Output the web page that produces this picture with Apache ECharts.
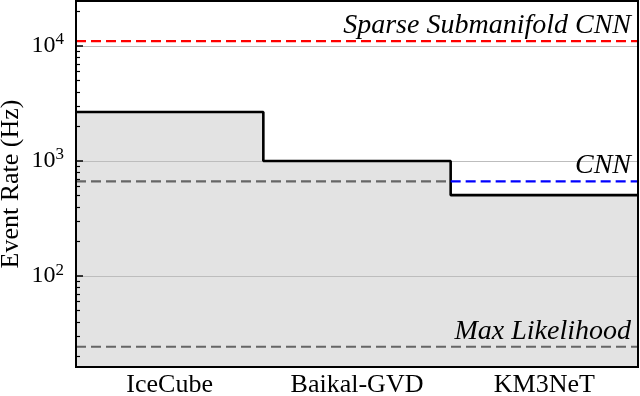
<!DOCTYPE html>
<html>
<head>
<meta charset="utf-8">
<script src="https://cdn.jsdelivr.net/npm/echarts@6/dist/echarts.min.js"></script>
<style>
  html, body { margin: 0; padding: 0; background: #fff; }
  #chart { width: 640px; height: 396px; }
</style>
</head>
<body>
<div id="chart"></div>
<script>
// detectors along x
var detectors = ["IceCube", "Baikal-GVD", "KM3NeT"];
// event rate of each detector (Hz), step outline
var eventRates = [2670, 1000, 505];
// reconstruction speeds (Hz)
var sparseCnnRate = 11000;
var cnnRate = 665;
var maxLikelihoodRate = 24.3;
// y axis range
var yMin = 16.2, yMax = 24600;
var majorTicks = [100, 1000, 10000];
var minorTicks = [20, 30, 40, 50, 60, 70, 80, 90, 200, 300, 400, 500, 600, 700, 800, 900,
    2000, 3000, 4000, 5000, 6000, 7000, 8000, 9000, 20000];

var serif = "Liberation Serif";

// step data: one point at the left edge of each band, plus the right edge
var stepData = eventRates.map(function (v, i) { return [i, v]; });
stepData.push([detectors.length, eventRates[eventRates.length - 1]]);

function hline(x0, x1, y, labelText) {
    var pts = [[x0, y], [x1, y]];
    if (labelText) {
        pts[1] = {
            value: [x1, y],
            label: {
                show: true,
                formatter: labelText,
                position: "top",
                align: "right",
                verticalAlign: "bottom",
                distance: 1,
                offset: [-7, 0],
                color: "#000",
                opacity: 1,
                fontFamily: serif,
                fontStyle: "italic",
                fontSize: 28
            }
        };
    }
    return pts;
}

function dashed(color, data) {
    return {
        type: "line",
        xAxisIndex: 1,
        data: data,
        symbol: "circle",
        symbolSize: 1,
        showSymbol: true,
        z: 5,
        lineStyle: { color: color, width: 2.2, type: [10, 5] },
        itemStyle: { color: "rgba(0,0,0,0)" },
        label: { show: false },
        animation: false
    };
}

var chart = echarts.init(document.getElementById("chart"));
chart.setOption({
    animation: false,
    grid: {
        left: 76, right: 2, top: 1, bottom: 29,
        containLabel: false, outerBoundsMode: "none",
        show: true, borderColor: "#000", borderWidth: 2, z: 6
    },
    xAxis: [
        {
            type: "category",
            data: detectors,
            boundaryGap: true,
            z: 6,
            axisLine: { lineStyle: { color: "#000", width: 2 } },
            axisTick: { alignWithLabel: true, inside: true, length: 6, lineStyle: { color: "#000", width: 1.5 } },
            axisLabel: { color: "#000", fontFamily: serif, fontSize: 26, margin: 5 },
            splitLine: { show: false }
        },
        {
            type: "value",
            min: 0,
            max: detectors.length,
            show: false
        }
    ],
    yAxis: [
        {
            type: "log",
            logBase: 10,
            min: yMin,
            max: yMax,
            z: 3,
            name: "Event Rate (Hz)",
            nameLocation: "middle",
            nameGap: 52,
            nameMoveOverlap: false,
            nameTextStyle: { color: "#000", fontFamily: serif, fontSize: 26 },
            axisLine: { lineStyle: { color: "#000", width: 2 } },
            axisTick: { inside: true, length: 7, customValues: majorTicks, lineStyle: { color: "#000", width: 1.5 } },
            axisLabel: {
                customValues: majorTicks,
                margin: 12,
                formatter: function (v) {
                    var e = Math.round(Math.log10(v));
                    return "{b|10}{s|" + e + "}";
                },
                rich: {
                    b: { fontFamily: serif, fontSize: 24, color: "#000" },
                    s: { fontFamily: serif, fontSize: 17, color: "#000", padding: [0, 0, 12, 0] }
                }
            },
            splitLine: { show: true, lineStyle: { color: "#bdbdbd", width: 1 } }
        },
        {
            type: "log",
            logBase: 10,
            min: yMin,
            max: yMax,
            position: "left",
            z: 3,
            axisLine: { show: false },
            axisTick: { inside: true, length: 4, customValues: minorTicks, lineStyle: { color: "#000", width: 1.2 } },
            axisLabel: { show: false },
            splitLine: { show: false }
        }
    ],
    series: [
        {
            // shaded area under the detector rates
            type: "line",
            xAxisIndex: 1,
            data: stepData,
            step: "end",
            symbol: "none",
            z: 1,
            lineStyle: { width: 0 },
            areaStyle: { color: "#e3e3e3", opacity: 1, origin: "start" }
        },
        {
            type: "line",
            xAxisIndex: 1,
            data: stepData,
            step: "end",
            symbol: "none",
            z: 5,
            lineStyle: { color: "#000", width: 2.6 }
        },
        dashed("#ff0000", hline(0, 3, sparseCnnRate, "Sparse Submanifold CNN")),
        dashed("#666666", hline(0, 2, cnnRate)),
        dashed("#0000ff", hline(2, 3, cnnRate, "CNN")),
        dashed("#666666", hline(0, 3, maxLikelihoodRate, "Max Likelihood"))
    ]
});
</script>
</body>
</html>
